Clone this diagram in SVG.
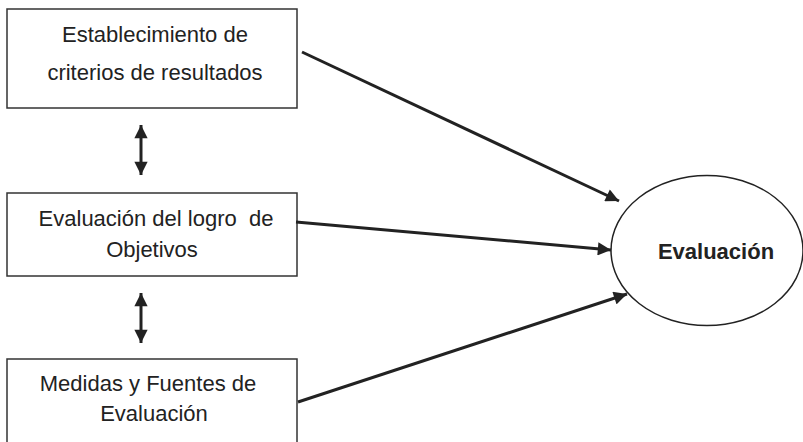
<svg xmlns="http://www.w3.org/2000/svg" width="803" height="442" viewBox="0 0 803 442">
<defs>
<style>
.box{fill:#fff;stroke:#333;stroke-width:1.5}
.t{font-family:"Liberation Sans",Arial,sans-serif;font-size:22px;fill:#222;text-anchor:middle;white-space:pre}
.b{font-weight:bold}
.c{stroke:#222;stroke-width:3;fill:none}
</style>
<marker id="ah" viewBox="0 0 10 10" refX="10" refY="5" markerWidth="5" markerHeight="4.4" markerUnits="strokeWidth" orient="auto-start-reverse">
<path d="M0,0 L10,5 L0,10 z" fill="#222"/>
</marker>
</defs>
<rect width="803" height="442" fill="#fff"/>
<g id="n1">
<rect class="box" x="7" y="9" width="290" height="99"/>
<text class="t" x="155" y="42">Establecimiento de</text>
<text class="t" x="155" y="80">criterios de resultados</text>
</g>
<g id="n2">
<rect class="box" x="7" y="193" width="290" height="83"/>
<text class="t" x="156" y="226" xml:space="preserve">Evaluación del logro  de</text>
<text class="t" x="152" y="257">Objetivos</text>
</g>
<g id="n3">
<rect class="box" x="7" y="359" width="290" height="90"/>
<text class="t" x="148" y="391">Medidas y Fuentes de</text>
<text class="t" x="154" y="421">Evaluación</text>
</g>
<g id="n4">
<ellipse cx="707" cy="250.5" rx="96" ry="75" fill="#fff" stroke="#222" stroke-width="1.5"/>
<text class="t b" x="716" y="259">Evaluación</text>
</g>
<g id="connectors">
<line class="c" x1="302" y1="52" x2="619" y2="201" marker-end="url(#ah)"/>
<line class="c" x1="296" y1="222" x2="611" y2="250" marker-end="url(#ah)"/>
<line class="c" x1="298" y1="402" x2="627" y2="294" marker-end="url(#ah)"/>
<line class="c" x1="141" y1="125" x2="141" y2="175" marker-start="url(#ah)" marker-end="url(#ah)"/>
<line class="c" x1="141" y1="293" x2="141" y2="343" marker-start="url(#ah)" marker-end="url(#ah)"/>
</g>
</svg>
